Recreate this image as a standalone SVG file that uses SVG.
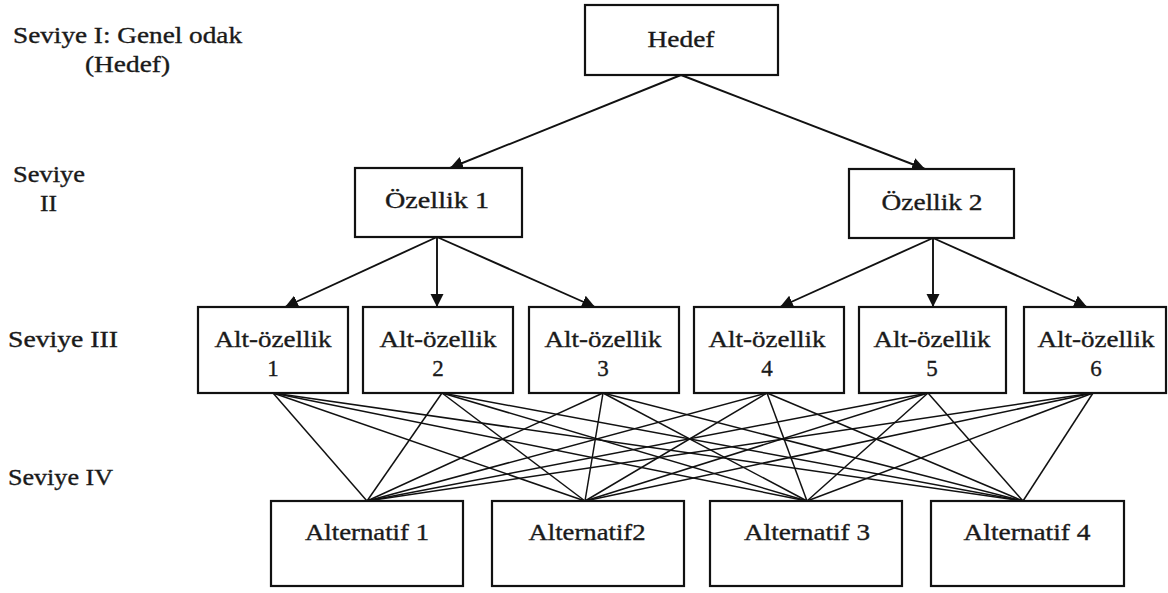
<svg xmlns="http://www.w3.org/2000/svg" width="1168" height="593" viewBox="0 0 1168 593">
<style>
.box{fill:#fff;stroke:#111;stroke-width:2.2}
.t{font-family:"Liberation Serif","Times New Roman",serif;font-size:23px;fill:#1a1a1a;stroke:#1a1a1a;stroke-width:0.35}
.m{text-anchor:middle}
.arr{stroke:#111;stroke-width:1.9;fill:none}
.ln{stroke:#111;stroke-width:1.5;fill:none}
</style>
<defs>
<marker id="ah" markerUnits="userSpaceOnUse" markerWidth="14" markerHeight="14" refX="13" refY="6.5" orient="auto">
<path d="M0,0 L13,6.5 L0,13 z" fill="#111"/>
</marker>
</defs>
<rect width="1168" height="593" fill="#fff"/>
<g id="levels">
<text class="t" x="13" y="43" textLength="229" lengthAdjust="spacingAndGlyphs">Seviye I: Genel odak</text>
<text class="t" x="85" y="72" textLength="85" lengthAdjust="spacingAndGlyphs">(Hedef)</text>
<text class="t" x="13" y="182" textLength="72" lengthAdjust="spacingAndGlyphs">Seviye</text>
<text class="t" x="40" y="211" textLength="17" lengthAdjust="spacingAndGlyphs">II</text>
<text class="t" x="8" y="347" textLength="110" lengthAdjust="spacingAndGlyphs">Seviye III</text>
<text class="t" x="8" y="485" textLength="105" lengthAdjust="spacingAndGlyphs">Seviye IV</text>
</g>
<g id="connectors">
<line class="arr" x1="681" y1="75" x2="450" y2="168" marker-end="url(#ah)"/>
<line class="arr" x1="681" y1="75" x2="925" y2="169" marker-end="url(#ah)"/>
<line class="arr" x1="437" y1="237" x2="285" y2="307" marker-end="url(#ah)"/>
<line class="arr" x1="437" y1="237" x2="437" y2="307" marker-end="url(#ah)"/>
<line class="arr" x1="437" y1="237" x2="595" y2="307" marker-end="url(#ah)"/>
<line class="arr" x1="933" y1="238" x2="780" y2="307" marker-end="url(#ah)"/>
<line class="arr" x1="933" y1="238" x2="933" y2="307" marker-end="url(#ah)"/>
<line class="arr" x1="933" y1="238" x2="1087" y2="307" marker-end="url(#ah)"/>
<g>
<line class="ln" x1="273" y1="393" x2="367" y2="501"/>
<line class="ln" x1="273" y1="393" x2="585" y2="501"/>
<line class="ln" x1="273" y1="393" x2="807" y2="501"/>
<line class="ln" x1="273" y1="393" x2="1023" y2="501"/>
<line class="ln" x1="442" y1="393" x2="367" y2="501"/>
<line class="ln" x1="442" y1="393" x2="585" y2="501"/>
<line class="ln" x1="442" y1="393" x2="807" y2="501"/>
<line class="ln" x1="442" y1="393" x2="1023" y2="501"/>
<line class="ln" x1="603" y1="393" x2="367" y2="501"/>
<line class="ln" x1="603" y1="393" x2="585" y2="501"/>
<line class="ln" x1="603" y1="393" x2="807" y2="501"/>
<line class="ln" x1="603" y1="393" x2="1023" y2="501"/>
<line class="ln" x1="767" y1="393" x2="367" y2="501"/>
<line class="ln" x1="767" y1="393" x2="585" y2="501"/>
<line class="ln" x1="767" y1="393" x2="807" y2="501"/>
<line class="ln" x1="767" y1="393" x2="1023" y2="501"/>
<line class="ln" x1="928" y1="393" x2="367" y2="501"/>
<line class="ln" x1="928" y1="393" x2="585" y2="501"/>
<line class="ln" x1="928" y1="393" x2="807" y2="501"/>
<line class="ln" x1="928" y1="393" x2="1023" y2="501"/>
<line class="ln" x1="1093" y1="393" x2="367" y2="501"/>
<line class="ln" x1="1093" y1="393" x2="585" y2="501"/>
<line class="ln" x1="1093" y1="393" x2="807" y2="501"/>
<line class="ln" x1="1093" y1="393" x2="1023" y2="501"/>
</g>
</g>
<g id="hedef">
<rect class="box" x="585" y="5" width="193" height="70"/>
<text class="t m" x="681" y="47" textLength="67" lengthAdjust="spacingAndGlyphs">Hedef</text>
</g>
<g id="ozellik1">
<rect class="box" x="355" y="168" width="167" height="69"/>
<text class="t m" x="437" y="208" textLength="104" lengthAdjust="spacingAndGlyphs">Özellik 1</text>
</g>
<g id="ozellik2">
<rect class="box" x="849" y="169" width="165" height="69"/>
<text class="t m" x="932" y="210" textLength="101" lengthAdjust="spacingAndGlyphs">Özellik 2</text>
</g>
<g id="alt1">
<rect class="box" x="198" y="307" width="150" height="86"/>
<text class="t m" x="273" y="347" textLength="117" lengthAdjust="spacingAndGlyphs">Alt-özellik</text>
<text class="t m" x="273" y="376">1</text>
</g>
<g id="alt2">
<rect class="box" x="363" y="307" width="150" height="86"/>
<text class="t m" x="438" y="347" textLength="117" lengthAdjust="spacingAndGlyphs">Alt-özellik</text>
<text class="t m" x="438" y="376">2</text>
</g>
<g id="alt3">
<rect class="box" x="529" y="307" width="150" height="86"/>
<text class="t m" x="603" y="347" textLength="117" lengthAdjust="spacingAndGlyphs">Alt-özellik</text>
<text class="t m" x="603" y="376">3</text>
</g>
<g id="alt4">
<rect class="box" x="694" y="307" width="150" height="86"/>
<text class="t m" x="767" y="347" textLength="117" lengthAdjust="spacingAndGlyphs">Alt-özellik</text>
<text class="t m" x="767" y="376">4</text>
</g>
<g id="alt5">
<rect class="box" x="859" y="307" width="147" height="86"/>
<text class="t m" x="932" y="347" textLength="117" lengthAdjust="spacingAndGlyphs">Alt-özellik</text>
<text class="t m" x="932" y="376">5</text>
</g>
<g id="alt6">
<rect class="box" x="1024" y="307" width="142" height="86"/>
<text class="t m" x="1096" y="347" textLength="117" lengthAdjust="spacingAndGlyphs">Alt-özellik</text>
<text class="t m" x="1096" y="376">6</text>
</g>
<g id="alternatif1">
<rect class="box" x="271" y="501" width="192" height="85"/>
<text class="t m" x="367" y="540" textLength="124" lengthAdjust="spacingAndGlyphs">Alternatif 1</text>
</g>
<g id="alternatif2">
<rect class="box" x="492" y="501" width="192" height="85"/>
<text class="t m" x="587" y="540" textLength="117" lengthAdjust="spacingAndGlyphs">Alternatif2</text>
</g>
<g id="alternatif3">
<rect class="box" x="710" y="501" width="192" height="85"/>
<text class="t m" x="807" y="540" textLength="126" lengthAdjust="spacingAndGlyphs">Alternatif 3</text>
</g>
<g id="alternatif4">
<rect class="box" x="931" y="501" width="193" height="85"/>
<text class="t m" x="1027" y="540" textLength="127" lengthAdjust="spacingAndGlyphs">Alternatif 4</text>
</g>
</svg>
